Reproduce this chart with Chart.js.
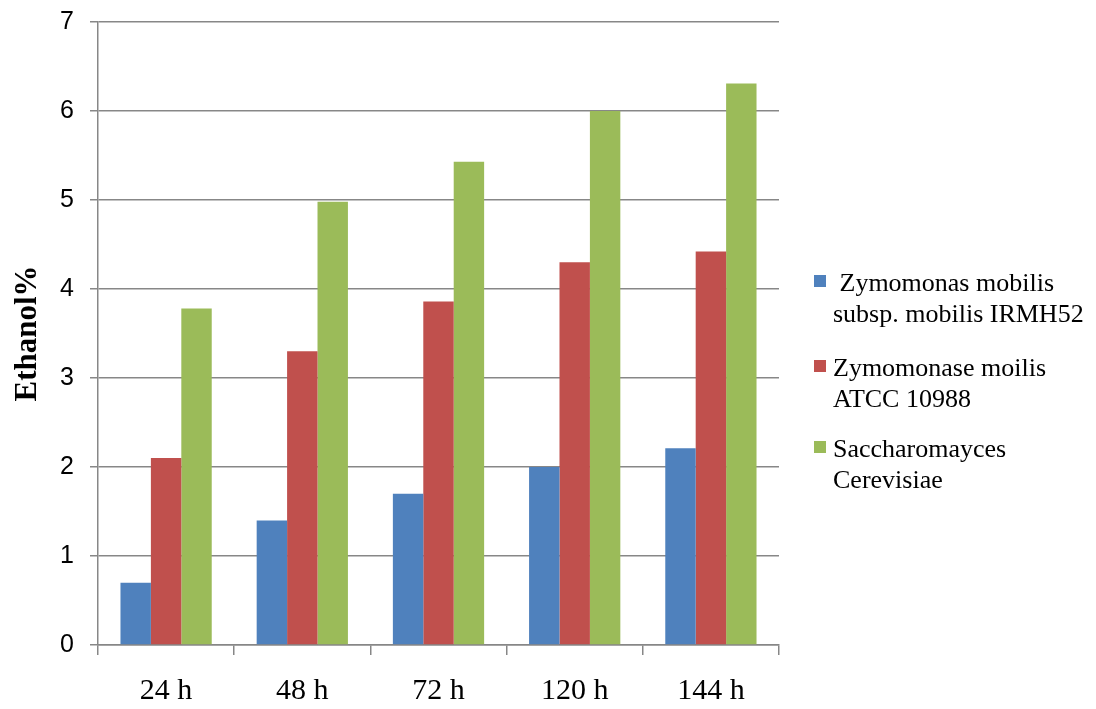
<!DOCTYPE html>
<html>
<head>
<meta charset="utf-8">
<script src="https://cdn.jsdelivr.net/npm/chart.js@4.4.1/dist/chart.umd.min.js"></script>
<style>
  html, body { margin: 0; padding: 0; background: #fff; }
  #wrap { position: relative; width: 1096px; height: 709px; }
</style>
</head>
<body>
<div id="wrap"><canvas id="c" width="1096" height="709"></canvas></div>
<script>
// Fermentation time points
const categories = ['24 h', '48 h', '72 h', '120 h', '144 h'];

// Ethanol yield (%) per strain
const irmh52 = [0.7, 1.4, 1.7, 2.0, 2.21];
const atcc10988 = [2.1, 3.3, 3.86, 4.3, 4.42];
const cerevisiae = [3.78, 4.98, 5.43, 6.0, 6.31];

// Legend text, one entry per strain, split over two lines
const seriesNames = [
  [' Zymomonas mobilis', 'subsp. mobilis IRMH52'],
  ['Zymomonase moilis', 'ATCC 10988'],
  ['Saccharomayces', 'Cerevisiae']
];

const yTicks = [0, 1, 2, 3, 4, 5, 6, 7];

const colors = ['#4F81BD', '#C0504D', '#9BBB59'];
const gridColor = '#878787';

// Draws the two-line legend to the right of the plot
const sideLegend = {
  id: 'sideLegend',
  afterDraw(chart) {
    const ctx = chart.ctx;
    const baselines = [291, 376, 457];
    ctx.save();
    ctx.font = '26px "Liberation Serif", "Times New Roman", serif';
    ctx.textBaseline = 'alphabetic';
    ctx.textAlign = 'left';
    chart.data.datasets.forEach((ds, i) => {
      const b = baselines[i];
      ctx.fillStyle = ds.backgroundColor;
      ctx.fillRect(814, b - 16, 12, 12);
      ctx.fillStyle = '#000';
      ds.label.forEach((line, j) => {
        ctx.fillText(line, 833, b + j * 31);
      });
    });
    ctx.restore();
  }
};

new Chart(document.getElementById('c'), {
  type: 'bar',
  data: {
    labels: categories,
    datasets: [
      { label: seriesNames[0], data: irmh52, backgroundColor: colors[0] },
      { label: seriesNames[1], data: atcc10988, backgroundColor: colors[1] },
      { label: seriesNames[2], data: cerevisiae, backgroundColor: colors[2] }
    ]
  },
  options: {
    responsive: false,
    animation: false,
    events: [],
    layout: { padding: { left: 0, right: 317, top: 22, bottom: 0 } },
    datasets: {
      bar: { categoryPercentage: 0.67, barPercentage: 1.0, borderWidth: 0 }
    },
    plugins: {
      legend: { display: false },
      tooltip: { enabled: false }
    },
    scales: {
      x: {
        afterFit(scale) {
          scale.height = 64;
          scale.paddingLeft = 0;
          scale.paddingRight = 0;
        },
        grid: {
          display: true,
          offset: true,
          drawOnChartArea: false,
          drawTicks: true,
          tickLength: 10,
          color: gridColor,
          lineWidth: 1.5
        },
        border: { display: true, color: gridColor, width: 1.5 },
        ticks: {
          color: '#000',
          padding: 18,
          font: { family: '"Liberation Serif", "Times New Roman", serif', size: 30 }
        }
      },
      y: {
        min: 0,
        max: 7,
        afterFit(scale) {
          scale.width = 98;
          scale.paddingTop = 0;
          scale.paddingBottom = 0;
        },
        afterBuildTicks(scale) { scale.ticks = yTicks.map(v => ({ value: v })); },
        grid: {
          color: gridColor,
          lineWidth: 1.5,
          drawTicks: true,
          tickLength: 8
        },
        border: { display: true, color: gridColor, width: 1.5 },
        ticks: {
          color: '#000',
          padding: 16,
          font: { family: '"Liberation Sans", Arial, sans-serif', size: 25 }
        },
        title: {
          display: true,
          text: 'Ethanol%',
          color: '#000',
          padding: { top: 9, bottom: 0 },
          font: { family: '"Liberation Serif", "Times New Roman", serif', size: 31, weight: 'bold' }
        }
      }
    }
  },
  plugins: [sideLegend]
});
</script>
</body>
</html>
